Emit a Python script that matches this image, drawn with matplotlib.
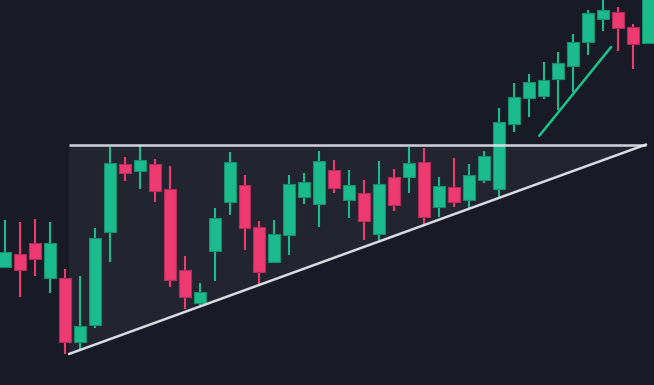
import matplotlib
matplotlib.use("Agg")
import matplotlib.pyplot as plt
from matplotlib.patches import Rectangle, Polygon

# OHLC data (price units)
opens  = [118, 130.7, 142.3, 107.3, 107, 43.3, 59.7, 153.3, 221.3, 213.7, 221.3, 196, 115.3, 82,
          134, 183.3, 199.7, 157.7, 123.3, 150, 187.7, 181.3, 215.3, 185.3, 191.7, 151, 208, 208.3,
          223, 177.7, 197.7, 185, 205, 196.3, 260.7, 286.7, 289, 306.3, 318.7, 343.3, 365.7, 373.3,
          357.7, 341.7]
closes = [132.7, 115, 126.3, 141.7, 43.3, 59.3, 147.3, 222.3, 211.7, 224.7, 194, 105.3, 88, 92.7,
          166.7, 222.7, 157, 112.7, 150.7, 200.7, 203.3, 224.3, 197, 199.7, 164, 201, 180.3, 221.7,
          168, 199, 183.3, 210.3, 229.3, 262.7, 287.7, 302.7, 304.7, 322, 343, 371.7, 375, 357,
          341.3, 395]
highs  = [165, 163, 166, 162.7, 116, 109.3, 156.7, 237.7, 228, 240, 226, 218.7, 129, 101.7,
          177, 233, 209.7, 163.7, 165, 209.7, 211.7, 233.7, 225.3, 215.3, 205, 224.3, 215.7, 237.7,
          236.7, 208, 226.7, 220.7, 234.3, 277, 302, 311, 322.7, 333, 351, 375, 387, 378.3,
          361, 400]
lows   = [117, 88.3, 109.3, 91.7, 31, 35, 57.3, 123, 204.3, 196.3, 182.7, 98.3, 76.3, 80,
          103.7, 170.3, 135, 100.7, 123.3, 130, 181.3, 158.3, 191.7, 167.3, 145, 145, 174, 191.7,
          161, 167.7, 178.3, 176.7, 202.3, 188.3, 253.3, 268.3, 286.3, 275, 293.3, 330, 353.7, 334.3,
          316, 340.7]

# pattern annotations (index, price)
resist_x = [4.26, 42.86]
resist_y = [240.5, 240.5]
support_x = [4.26, 42.86]
support_y = [31, 240.5]
trend_x = [35.72, 40.52]
trend_y = [249.3, 338]

BG = '#181b26'
FILL = '#22252f'
UP = '#1bbb8e'
DOWN = '#ee3a73'
UP_EDGE = '#168f6e'
DOWN_EDGE = '#b32d59'
LINE = '#e4e6ee'

fig = plt.figure(figsize=(6.54, 3.85), dpi=100, facecolor=BG)
ax = fig.add_axes([0, 0, 1, 1])
ax.set_facecolor(BG)
ax.set_xlim(-0.355, 43.39)
ax.set_ylim(0, 385)
ax.axis('off')

# triangle fill
tri = Polygon([(resist_x[0], resist_y[0]), (resist_x[1], resist_y[1]), (support_x[0], support_y[0])],
              closed=True, facecolor=FILL, edgecolor='none', zorder=1)
ax.add_patch(tri)

w = 0.8
for i, (o, c, h, l) in enumerate(zip(opens, closes, highs, lows)):
    up = c >= o
    col = UP if up else DOWN
    ecol = UP_EDGE if up else DOWN_EDGE
    ax.plot([i, i], [l, h], color=ecol if False else col, lw=1.5, zorder=2, solid_capstyle='butt')
    lo, hi = min(o, c), max(o, c)
    ax.add_patch(Rectangle((i - w / 2, lo), w, hi - lo, facecolor=col, edgecolor=ecol,
                           lw=0.8, zorder=3))

ax.plot(resist_x, resist_y, color=LINE, lw=1.8, alpha=0.9, zorder=4, solid_capstyle='butt')
ax.plot(support_x, support_y, color=LINE, lw=1.8, alpha=0.95, zorder=4, solid_capstyle='round')
ax.plot(trend_x, trend_y, color='#1ac48f', lw=1.8, zorder=4, solid_capstyle='round')

fig.savefig('out.png', dpi=100, facecolor=BG)
